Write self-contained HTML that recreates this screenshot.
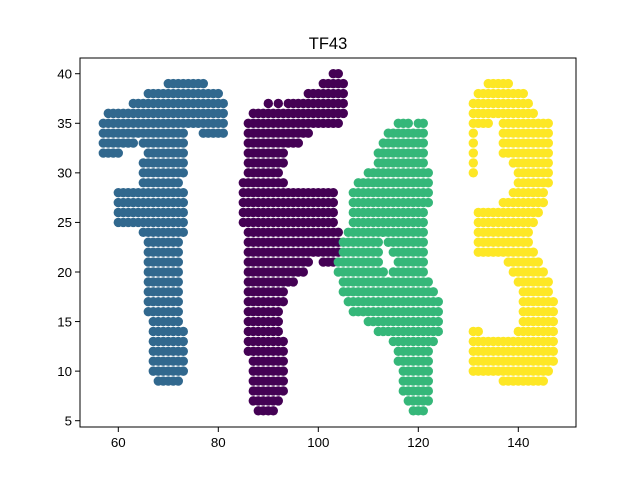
<!DOCTYPE html>
<html><head><meta charset="utf-8"><style>
html,body{margin:0;padding:0;background:#fff;}
svg text{font-family:"Liberation Sans","DejaVu Sans",sans-serif;fill:#000;}
</style></head><body>
<svg id="chart" width="640" height="480" viewBox="0 0 640 480" xmlns="http://www.w3.org/2000/svg">
<rect width="640" height="480" fill="#fff"/>
<text x="328" y="49" font-size="16.5" text-anchor="middle">TF43</text>
<g id="points"></g>
<g id="axes"></g>
</svg>
<script>
// rows: [y, xStart, xEnd] — one dot per integer x in range
const rowsF = [[40,103,104],[39,101,105],[38,98,105],[37,90,90],[37,92,92],[37,94,105],[36,87,105],[35,86,104],[34,86,98],[33,86,96],[32,86,93],[31,86,93],[30,86,92],[29,85,93],[28,85,103],[27,85,103],[26,85,103],[25,85,103],[24,86,104],[23,86,104],[22,86,104],[21,86,98],[21,101,103],[20,86,97],[19,86,95],[18,86,93],[17,86,93],[16,86,92],[15,86,92],[14,86,92],[13,86,93],[12,86,93],[11,87,93],[10,87,93],[9,87,93],[8,87,93],[7,87,92],[6,88,91]];
const rowsT = [[39,70,77],[38,66,80],[37,63,81],[36,58,81],[35,57,81],[34,57,73],[34,77,81],[33,57,63],[33,65,73],[32,57,60],[32,66,73],[31,65,73],[30,65,73],[29,65,72],[28,60,73],[27,60,73],[26,60,73],[25,60,73],[24,65,73],[23,66,72],[22,66,72],[21,66,72],[20,66,72],[19,66,72],[18,66,72],[17,66,72],[16,66,72],[15,67,72],[14,67,73],[13,67,73],[12,67,73],[11,67,73],[10,67,73],[9,68,72]];
const rows4 = [[35,116,118],[35,120,121],[34,114,121],[33,113,121],[32,112,121],[31,112,121],[30,110,122],[29,108,122],[28,107,122],[27,107,122],[26,107,121],[25,107,121],[24,106,121],[23,105,112],[23,114,121],[22,105,112],[22,115,121],[21,104,112],[21,116,121],[20,104,113],[20,115,121],[19,105,122],[18,105,123],[17,106,124],[16,107,124],[15,110,124],[14,112,124],[13,115,123],[12,116,122],[11,116,122],[10,117,122],[9,117,122],[8,117,122],[7,118,122],[6,119,121]];
const rows3 = [[39,134,138],[38,132,141],[37,131,142],[36,131,143],[35,131,134],[35,137,146],[34,131,131],[34,137,146],[33,131,131],[33,137,146],[32,131,131],[32,137,146],[31,131,131],[31,139,146],[30,131,131],[30,140,146],[29,140,146],[28,139,145],[27,137,145],[26,132,144],[25,132,143],[24,132,142],[23,132,142],[22,132,143],[21,138,144],[20,139,145],[19,140,146],[18,141,146],[17,141,147],[16,141,147],[15,141,147],[14,131,132],[14,140,147],[13,131,147],[12,131,147],[11,131,147],[10,131,146],[9,137,145]];
const xTicks = [60,80,100,120,140];
const yTicks = [5,10,15,20,25,30,35,40];

const NS = "http://www.w3.org/2000/svg";
const X0 = 80, X1 = 576, Y0 = 58, Y1 = 427;
function sx(v){ return 118.3 + (v - 60) * 5.0; }
function sy(v){ return 420.7 - (v - 5) * 9.914; }

const pts = document.getElementById('points');
function drawLetter(rows, color, name){
  const g = document.createElementNS(NS,'g');
  
  
  rows.forEach(r => {
    for (let x = r[1]; x <= r[2]; x++){
      const c = document.createElementNS(NS,'circle');
      c.setAttribute('cx', sx(x));
      c.setAttribute('cy', sy(r[0]));
      c.setAttribute('r', 4.7);
      c.setAttribute('fill', color);
      
      
      g.appendChild(c);
    }
  });
  pts.appendChild(g);
}
drawLetter(rowsF, '#440154', 'letter-f-points');
drawLetter(rowsT, '#31688e', 'letter-t-points');
drawLetter(rows4, '#35b779', 'digit-4-points');
drawLetter(rows3, '#fde725', 'digit-3-points');

const ax = document.getElementById('axes');
const frame = document.createElementNS(NS,'rect');
frame.setAttribute('x', X0); frame.setAttribute('y', Y0);
frame.setAttribute('width', X1 - X0); frame.setAttribute('height', Y1 - Y0);
frame.setAttribute('fill', 'none'); frame.setAttribute('stroke', '#000'); frame.setAttribute('stroke-width', '1');


ax.appendChild(frame);

xTicks.forEach(t => {
  const x = sx(t);
  const l = document.createElementNS(NS,'line');
  l.setAttribute('x1', x); l.setAttribute('x2', x); l.setAttribute('y1', Y1); l.setAttribute('y2', Y1 + 5);
  l.setAttribute('stroke', '#000');
  
  
  ax.appendChild(l);
  const tx = document.createElementNS(NS,'text');
  tx.setAttribute('x', x); tx.setAttribute('y', Y1 + 20); tx.setAttribute('font-size', '13.3'); tx.setAttribute('text-anchor', 'middle');
  tx.textContent = t;
  
  
  ax.appendChild(tx);
});
yTicks.forEach(t => {
  const y = sy(t);
  const l = document.createElementNS(NS,'line');
  l.setAttribute('x1', X0 - 5); l.setAttribute('x2', X0); l.setAttribute('y1', y); l.setAttribute('y2', y);
  l.setAttribute('stroke', '#000');
  
  
  ax.appendChild(l);
  const tx = document.createElementNS(NS,'text');
  tx.setAttribute('x', X0 - 8); tx.setAttribute('y', y + 4.8); tx.setAttribute('font-size', '13.3'); tx.setAttribute('text-anchor', 'end');
  tx.textContent = t;
  
  
  ax.appendChild(tx);
});
</script>
</body></html>
